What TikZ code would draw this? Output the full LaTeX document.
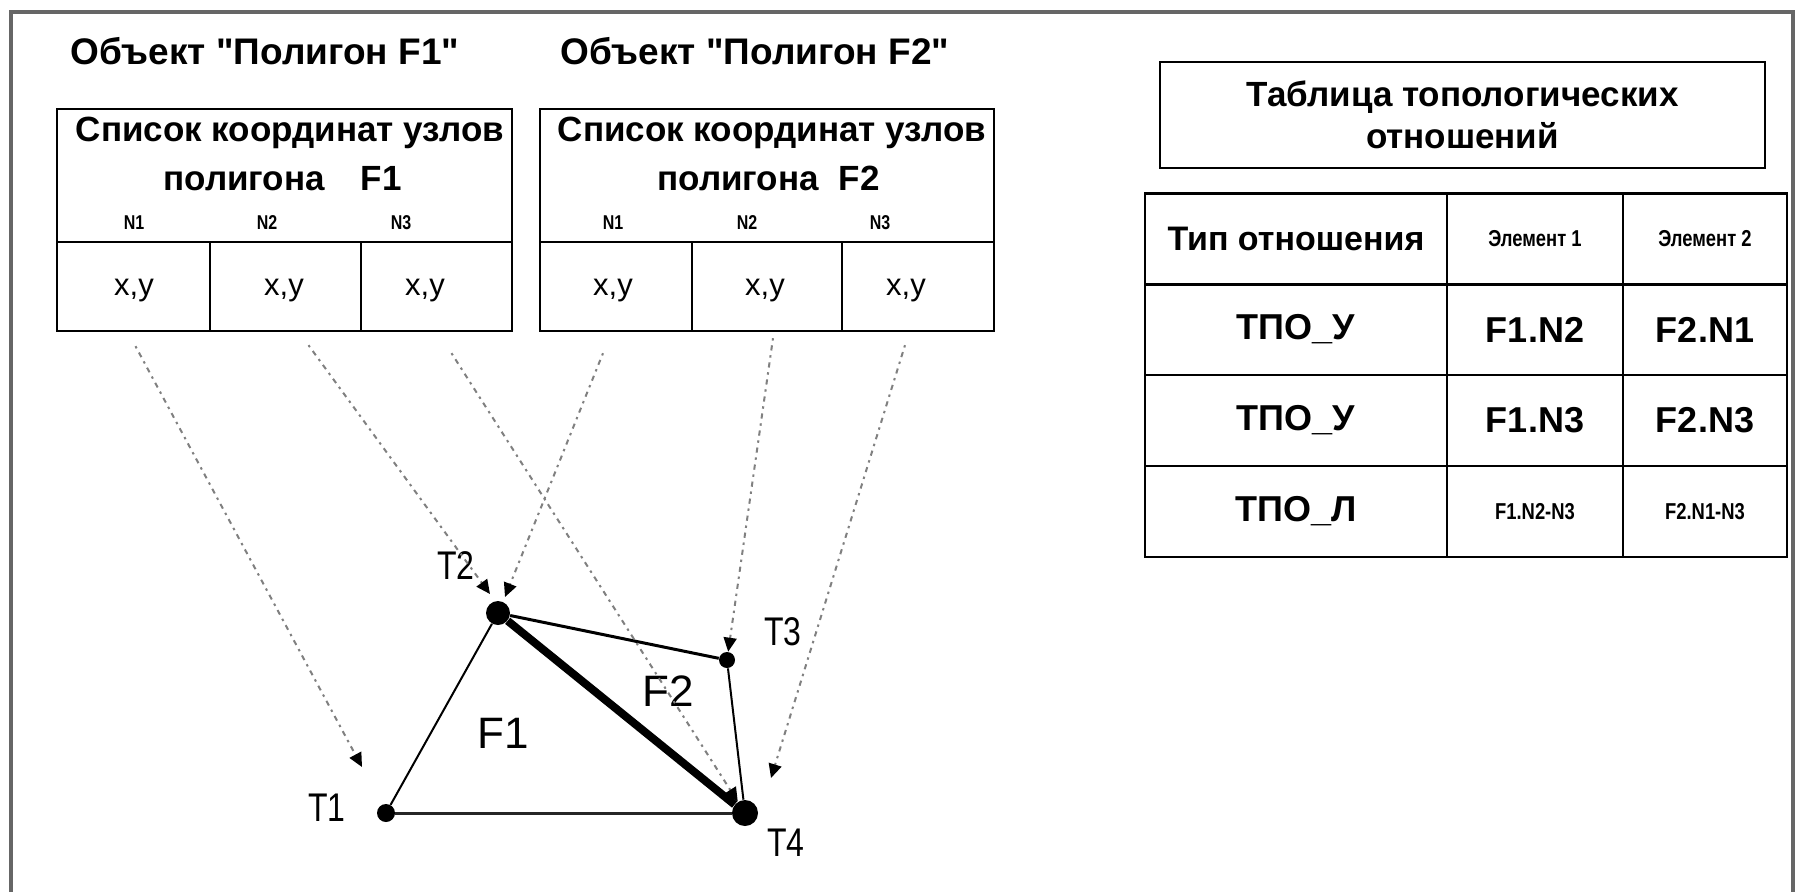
\documentclass[tikz,border=0pt]{standalone}
\usepackage{fontspec}
\setmainfont{Liberation Sans}[Ligatures=TeXOff]
\newfontfamily\narrowf[FakeStretch=0.8,Ligatures=TeXOff]{Liberation Sans}
\usetikzlibrary{arrows.meta}
\begin{document}
\begin{tikzpicture}[x=0.5pt,y=-0.5pt,
  frame/.style={draw=black!60, line width=2pt},
  cell/.style={draw=black, line width=1.2pt, inner sep=0pt},
  lcell/.style={cell, minimum height=44.5pt},
  rcell/.style={cell, minimum height=45.5pt},
  ttl/.style={font=\bfseries\fontsize{18.5}{22}\selectfont, anchor=base},
  hdr/.style={font=\bfseries\fontsize{17.5}{20}\selectfont, anchor=base},
  nlab/.style={font=\narrowf\bfseries\fontsize{10}{12}\selectfont, anchor=base},
  xy/.style={font=\fontsize{15.5}{18}\selectfont, anchor=base},
  big/.style={font=\bfseries\fontsize{18}{20}\selectfont},
  small/.style={font=\narrowf\bfseries\fontsize{11.5}{13}\selectfont},
  pt/.style={circle, fill=black, inner sep=0pt},
  tlab/.style={font=\narrowf\fontsize{20}{22}\selectfont},
  flab/.style={font=\fontsize{22}{24}\selectfont},
  conn/.style={draw=black!50, line width=1pt, dash pattern=on 1.2pt off 2.4pt on 2.6pt off 2.4pt,
    -{Triangle[length=7pt,width=6.5pt,color=black,fill=black]}},
  edge/.style={draw=black, line width=1pt}
]
\useasboundingbox (0,0) rectangle (1796,891);
\fill[white] (0,0) rectangle (1796,891);
% outer frame (open at the bottom)
\draw[frame] (11,895) -- (11,12) -- (1793,12) -- (1793,895);

% ---------- titles ----------
\node[ttl] (title1) at (265,64) {Объект "Полигон F1"};
\node[ttl] (title2) at (755,64) {Объект "Полигон F2"};

% ---------- table F1 ----------
\node[cell, minimum width=227.5pt, minimum height=66.5pt] (h1) at (284.5,175.5) {};
\node[hdr] (h1a) at (290,141) {Список координат узлов};
\node[hdr] (h1b) at (282.5,190) {полигона\hspace{18pt}F1};
\node[nlab] (n11) at (134,229) {N1};
\node[nlab] (n12) at (267,229) {N2};
\node[nlab] (n13) at (401,229) {N3};
\node[lcell, minimum width=76.5pt] (c11) at (133.5,286.5) {};
\node[lcell, minimum width=75.5pt] (c12) at (285.5,286.5) {};
\node[lcell, minimum width=75.5pt] (c13) at (436.5,286.5) {};
\node[xy] (x11) at (134,295) {x,y};
\node[xy] (x12) at (284,295) {x,y};
\node[xy] (x13) at (425,295) {x,y};

% ---------- table F2 ----------
\node[cell, minimum width=227pt, minimum height=66.5pt] (h2) at (767,175.5) {};
\node[hdr] (h2a) at (772,141) {Список координат узлов};
\node[hdr] (h2b) at (768.5,190) {полигона\hspace{10pt}F2};
\node[nlab] (n21) at (613,229) {N1};
\node[nlab] (n22) at (747,229) {N2};
\node[nlab] (n23) at (880,229) {N3};
\node[lcell, minimum width=76pt] (c21) at (616,286.5) {};
\node[lcell, minimum width=75pt] (c22) at (767,286.5) {};
\node[lcell, minimum width=76pt] (c23) at (918,286.5) {};
\node[xy] (x21) at (613,295) {x,y};
\node[xy] (x22) at (765,295) {x,y};
\node[xy] (x23) at (906,295) {x,y};

% ---------- right: title box ----------
\node[cell, minimum width=302.5pt, minimum height=53pt, align=center,
      font=\bfseries\fontsize{17.5}{21}\selectfont] (tb) at (1462.5,115)
      {Таблица топологических\\отношений};

% ---------- right: relations table ----------
\node[rcell, minimum width=151pt, font=\bfseries\fontsize{17}{20}\selectfont] (r11) at (1296,239) {Тип отношения};
\node[rcell, minimum width=88pt, small] (r12) at (1535,239) {Элемент 1};
\node[rcell, minimum width=82pt, small] (r13) at (1705,239) {Элемент 2};
\node[rcell, minimum width=151pt, big] (r21) at (1296,329.5) {ТПО\_У};
\node[rcell, minimum width=88pt, big] (r22) at (1535,329.5) {F1.N2};
\node[rcell, minimum width=82pt, big] (r23) at (1705,329.5) {F2.N1};
\node[rcell, minimum width=151pt, big] (r31) at (1296,420.5) {ТПО\_У};
\node[rcell, minimum width=88pt, big] (r32) at (1535,420.5) {F1.N3};
\node[rcell, minimum width=82pt, big] (r33) at (1705,420.5) {F2.N3};
\node[rcell, minimum width=151pt, big] (r41) at (1296,511.5) {ТПО\_Л};
\node[rcell, minimum width=88pt, small] (r42) at (1535,511.5) {F1.N2-N3};
\node[rcell, minimum width=82pt, small] (r43) at (1705,511.5) {F2.N1-N3};

% ---------- points ----------
\node[pt, minimum size=9pt] (T1) at (386,813) {};
\node[pt, minimum size=12pt] (T2) at (498,613) {};
\node[pt, minimum size=8pt] (T3) at (727,660) {};
\node[pt, minimum size=13pt] (T4) at (745,813) {};

\node[tlab] (lT1) at (327,808) {T1};
\node[tlab] (lT2) at (456,566) {T2};
\node[tlab] (lT3) at (783,632) {T3};
\node[tlab] (lT4) at (786,843) {T4};
\node[flab] (lF1) at (503,733) {F1};
\node[flab] (lF2) at (668,691) {F2};

% ---------- polygon edges ----------
\draw[edge] (T1) -- (T2);
\draw[edge, line width=1.5pt] (T2) -- (T3);
\draw[edge] (T3) -- (T4);
\draw[edge, line width=1.5pt, draw=black!85] (T1) -- (T4);
\draw[edge, line width=4pt] (T2) -- (T4);

% ---------- free ends of the connectors ----------
\coordinate (e1) at (362,767);
\coordinate (e2) at (490,594);
\coordinate (e4) at (505,597);
\coordinate (e6) at (771,778);

% ---------- dotted connectors ----------
\draw[conn] ([shift={(2,14)}]c11.south) -- (e1);
\draw[conn] ([shift={(23,13)}]c12.south) -- (e2);
\draw[conn] ([shift={(15,21)}]c13.south) -- (T4);
\draw[conn] ([shift={(-13,21)}]c21.south) -- (e4);
\draw[conn] ([shift={(6,6)}]c22.south) -- (T3);
\draw[conn] ([shift={(-13,13)}]c23.south) -- (e6);
\end{tikzpicture}
\end{document}
